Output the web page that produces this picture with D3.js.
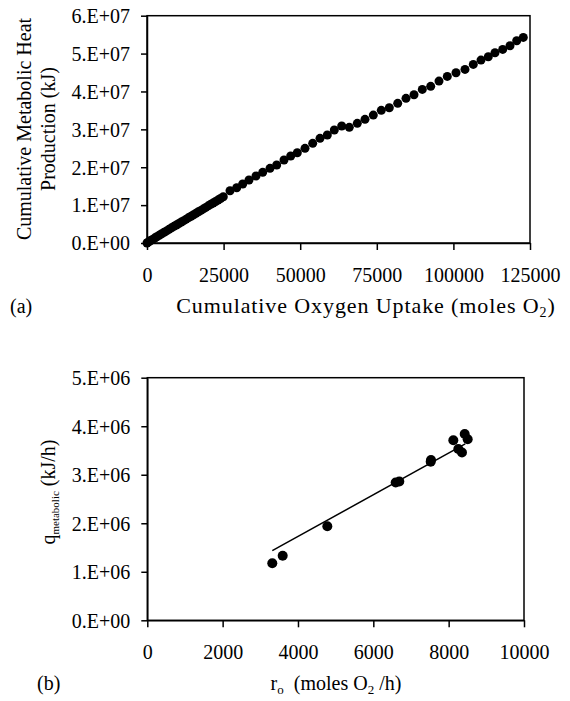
<!DOCTYPE html>
<html><head><meta charset="utf-8">
<script src="https://cdn.jsdelivr.net/npm/d3@7/dist/d3.min.js"></script>
<style>
html,body{margin:0;padding:0;background:#fff;}
svg{display:block;}
svg text{font-family:"Liberation Serif","Times New Roman",serif;fill:#000;}
.axis path,.axis line{stroke:#000;stroke-width:1.5;}
</style></head>
<body>
<svg id="chart" width="570" height="701" font-family="Liberation Serif"></svg>
<script>
// ---- Panel (a): cumulative oxygen uptake vs cumulative metabolic heat ----
const uptakeA = [0,300,700,1200,1800,2500,3200,4000,4800,5600,6400,7200,8000,8800,9600,10400,11200,12000,12800,13600,14400,15200,16000,16800,17600,18400,19200,20000,20800,21600,22400,23200,24000,
  24902,27089,29276,31234,33290,35575,37761,40144,42330,44713,46899,49054,51567,54080,56462,58845,61130,63545,66025,68636,71149,73858,76469,79080,81822,84530,87141,89850,92592,95300,98009,100849,103786,106495,109008,111390,113577,116090,118473,120659,122813];
const heatA = [0,0.15e6,0.38e6,0.65e6,0.95e6,1.3e6,1.65e6,2.05e6,2.45e6,2.85e6,3.2e6,3.6e6,4.0e6,4.4e6,4.75e6,5.15e6,5.55e6,5.9e6,6.3e6,6.7e6,7.05e6,7.45e6,7.85e6,8.25e6,8.6e6,9.0e6,9.4e6,9.8e6,10.2e6,10.55e6,10.95e6,11.35e6,11.75e6,
  1.222e7,1.380e7,1.459e7,1.557e7,1.662e7,1.768e7,1.865e7,1.971e7,2.058e7,2.190e7,2.296e7,2.383e7,2.499e7,2.631e7,2.763e7,2.850e7,2.982e7,3.087e7,3.053e7,3.158e7,3.264e7,3.377e7,3.501e7,3.570e7,3.686e7,3.818e7,3.913e7,4.055e7,4.135e7,4.274e7,4.398e7,4.493e7,4.583e7,4.715e7,4.828e7,4.916e7,5.021e7,5.111e7,5.206e7,5.338e7,5.427e7];
const xTicksA = [0,25000,50000,75000,100000,125000];
const yTicksA = [0,1e7,2e7,3e7,4e7,5e7,6e7];

// ---- Panel (b): oxygen uptake rate vs metabolic heat rate ----
const rateO = [3318,3594,4779,6594,6690,7523,7531,8124,8426,8505,8256,8354];
const qMet  = [1.175e6,1.33e6,1.94e6,2.84e6,2.86e6,3.27e6,3.305e6,3.71e6,3.84e6,3.73e6,3.53e6,3.46e6];
// linear trend line (start and end values)
const trendR = [3318, 8440];
const trendQ = [1.435e6, 3.635e6];
const xTicksB = [0,2000,4000,6000,8000,10000];
const yTicksB = [0,1e6,2e6,3e6,4e6,5e6];

const sciFmt = d => {
  if (d === 0) return "0.E+00";
  const e = Math.floor(Math.log10(d));
  const m = Math.round(d / Math.pow(10, e));
  return m + ".E+" + String(e).padStart(2, "0");
};

const svg = d3.select("#chart");
const FONT = "Liberation Serif";

function panel(cfg) {
  const x = d3.scaleLinear().domain(cfg.xDomain).range([cfg.left, cfg.right]);
  const y = d3.scaleLinear().domain(cfg.yDomain).range([cfg.bottom, cfg.top]);
  const g = svg.append("g");
  g.append("rect").attr("x", cfg.left).attr("y", cfg.top)
    .attr("width", cfg.right - cfg.left).attr("height", cfg.bottom - cfg.top)
    .attr("fill", "none").attr("stroke", "#000").attr("stroke-width", 1.5);
  const ya = g.append("g").attr("class", "axis").attr("transform", `translate(${cfg.left},0)`)
    .call(d3.axisLeft(y).tickValues(cfg.yTicks).tickFormat(sciFmt).tickSize(6).tickPadding(11).tickSizeOuter(0));
  ya.attr("font-family", FONT).attr("font-size", 20);
  ya.selectAll("text").attr("dy", "0.34em");
  const xa = g.append("g").attr("class", "axis").attr("transform", `translate(0,${cfg.bottom})`)
    .call(d3.axisBottom(x).tickValues(cfg.xTicks).tickFormat(d3.format("d")).tickSize(7).tickPadding(18).tickSizeOuter(0));
  xa.attr("font-family", FONT).attr("font-size", 20);
  return {x, y, g};
}

// Panel (a)
const A = panel({left:147, right:530, top:15.7, bottom:243, xDomain:[0,125000], yDomain:[0,6e7], xTicks:xTicksA, yTicks:yTicksA});
A.g.append("g").selectAll("circle").data(uptakeA.map((u,i)=>[u,heatA[i]])).join("circle")
  .attr("cx", d => A.x(d[0])).attr("cy", d => A.y(d[1])).attr("r", 4.5).attr("fill", "#000");

const yt = svg.append("g").attr("transform", "translate(24,129) rotate(-90)")
  .attr("font-size", 20).attr("text-anchor", "middle");
yt.append("text").attr("y", 0).attr("dy", "0.35em").text("Cumulative Metabolic Heat");
yt.append("text").attr("y", 24).attr("dy", "0.35em").text("Production (kJ)");

const xt = svg.append("text").attr("x", 366).attr("y", 313).attr("font-size", 22)
  .attr("letter-spacing", 0.9).attr("text-anchor", "middle");
xt.append("tspan").text("Cumulative Oxygen Uptake (moles O");
xt.append("tspan").attr("font-size", 14).attr("dy", 4).text("2");
xt.append("tspan").attr("dy", -4).text(")");
svg.append("text").attr("x", 10).attr("y", 313).attr("font-size", 20).text("(a)");

// Panel (b)
const B = panel({left:147.3, right:524, top:377.7, bottom:620.3, xDomain:[0,10000], yDomain:[0,5e6], xTicks:xTicksB, yTicks:yTicksB});
B.g.append("line").attr("x1", B.x(trendR[0])).attr("y1", B.y(trendQ[0]))
  .attr("x2", B.x(trendR[1])).attr("y2", B.y(trendQ[1]))
  .attr("stroke", "#000").attr("stroke-width", 1.5);
B.g.append("g").selectAll("circle").data(rateO.map((r,i)=>[r,qMet[i]])).join("circle")
  .attr("cx", d => B.x(d[0])).attr("cy", d => B.y(d[1])).attr("r", 5).attr("fill", "#000");

const ytb = svg.append("text").attr("transform", "translate(48,492) rotate(-90)")
  .attr("font-size", 20).attr("text-anchor", "middle").attr("dy", "0.35em");
ytb.append("tspan").text("q");
ytb.append("tspan").attr("font-size", 11).attr("dy", 4).text("metabolic");
ytb.append("tspan").attr("dy", -4).text(" (kJ/h)");

const xtb = svg.append("text").attr("x", 336).attr("y", 690).attr("font-size", 20).attr("text-anchor", "middle");
xtb.append("tspan").text("r");
xtb.append("tspan").attr("font-size", 13).attr("dy", 4).text("o");
xtb.append("tspan").attr("dy", -4).text("\u00a0 (moles O");
xtb.append("tspan").attr("font-size", 13).attr("dy", 4).text("2");
xtb.append("tspan").attr("dy", -4).text(" /h)");
svg.append("text").attr("x", 37).attr("y", 690).attr("font-size", 20).text("(b)");
</script>
</body></html>
